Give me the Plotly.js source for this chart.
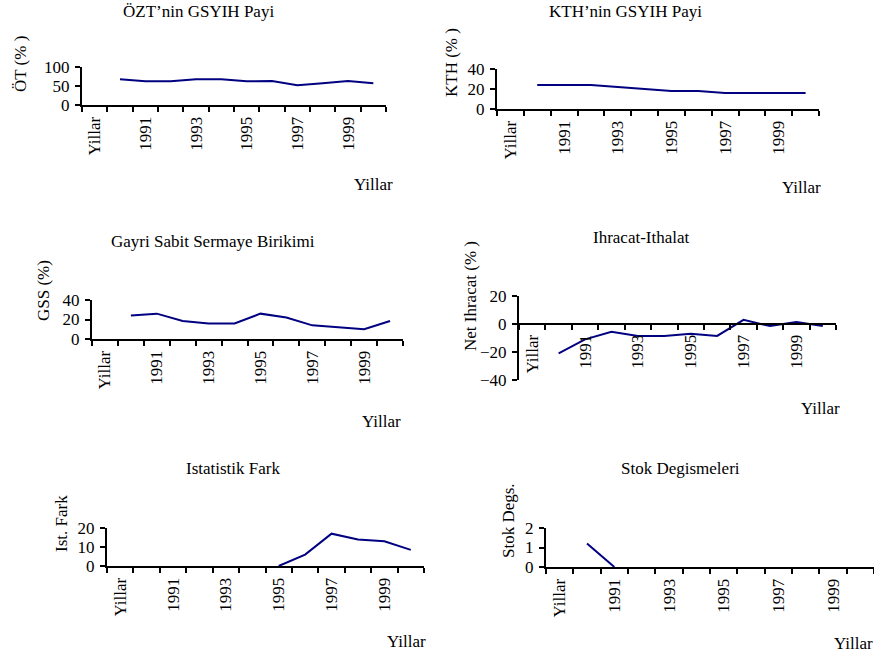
<!DOCTYPE html>
<html>
<head>
<meta charset="utf-8">
<script src="https://cdn.plot.ly/plotly-3.0.1.min.js"></script>
<style>html,body{margin:0;padding:0;background:#fff;}#chart{width:874px;height:658px;}</style>
</head>
<body>
<div id="chart"></div>
<script>
// ---- data ----
const categories = ["Yillar","1990","1991","1992","1993","1994","1995","1996","1997","1998","1999","2000"];
const tickLabels = ["Yillar","","1991","","1993","","1995","","1997","","1999",""];
const years = ["1990","1991","1992","1993","1994","1995","1996","1997","1998","1999","2000"];
const oztPay   = [67.5, 62.5, 62.5, 67.5, 67.5, 62.5, 63, 52, 57, 63, 57];
const kthPay   = [24, 24, 24, 22, 20, 18, 18, 16, 16, 16, 16];
const gssPay   = [24, 26, 18.5, 16, 16, 26, 22, 14, 12, 10, 18.5];
const netIhr   = [-21, -11, -5.5, -8.5, -8.5, -7, -8.5, 3, -1.5, 1.5, -1.5];
const istFark  = [null, null, null, null, null, 0, 6, 17, 14, 13, 8.5];
const stokDeg  = [1.2, 0, null, null, null, null, null, null, null, null, null];

const chartTitles = ["ÖZT’nin GSYIH Payi","KTH’nin GSYIH Payi","Gayri Sabit Sermaye Birikimi","Ihracat-Ithalat","Istatistik Fark","Stok Degismeleri"];
const yTitles = ["ÖT (% )","KTH (% )","GSS (%)","Net Ihracat (% )","Ist. Fark","Stok Degs."];
const xTitle = "Yillar";
const series = [oztPay, kthPay, gssPay, netIhr, istFark, stokDeg];
const yRanges = [[0,100],[0,40],[0,40],[-40,20],[0,20],[0,2]];
const yDticks = [50, 20, 20, 20, 10, 1];

// ---- layout geometry (pixels) ----
const W = 874, H = 658;
const geo = [
  {x:[82,386],  y:[67,105],  title:[198,12],  ytl:[20,64],   xtl:[373,185]},
  {x:[497,819], y:[69,109],  title:[625,12],  ytl:[451,62],  xtl:[801,187]},
  {x:[92,403],  y:[300,339], title:[213,241], ytl:[43,291],  xtl:[381,421]},
  {x:[519,836], y:[296,380], title:[641,238], ytl:[471,296], xtl:[820,408]},
  {x:[107,424], y:[528,566], title:[233,468], ytl:[61,524],  xtl:[406,641]},
  {x:[546,874], y:[528,567], title:[680,468], ytl:[508,521], xtl:[832,643], xtlLeft:true}
];
const px = v => v / W;
const py = v => 1 - v / H;

const fnt = () => ({family: "Liberation Serif", size: 17, color: "black"});
const traces = [];
const layout = {
  width: W, height: H,
  margin: {l:0, r:0, t:0, b:0},
  paper_bgcolor: "#fff", plot_bgcolor: "rgba(0,0,0,0)",
  showlegend: false,
  font: fnt(),
  annotations: []
};

series.forEach((vals, i) => {
  const n = i + 1;
  const xa = "xaxis" + (n === 1 ? "" : n), ya = "yaxis" + (n === 1 ? "" : n);
  const xr = "x" + (n === 1 ? "" : n), yr = "y" + (n === 1 ? "" : n);
  const g = geo[i];
  traces.push({
    type: "scatter", mode: "lines", x: years, y: vals,
    xaxis: xr, yaxis: yr,
    line: {color: "#000080", width: 2}, hoverinfo: "skip"
  });
  const yDom = [py(g.y[1]), py(g.y[0])];
  const yr0 = yRanges[i];
  const xAxis = {
    domain: [px(g.x[0]), px(g.x[1])],
    type: "category", categoryorder: "array", categoryarray: categories,
    range: [-0.5, categories.length - 0.5],
    tickmode: "array", tickvals: categories, ticktext: tickLabels,
    tickson: "boundaries", ticks: "outside", ticklen: 5, tickwidth: 2, tickcolor: "#000",
    tickangle: -90, tickfont: fnt(), ticklabelstandoff: 3,
    showline: true, linewidth: 2, linecolor: "#000",
    showgrid: false, zeroline: false, fixedrange: true
  };
  if (yr0[0] < 0) {
    xAxis.anchor = "free";
    xAxis.position = yDom[0] + (0 - yr0[0]) / (yr0[1] - yr0[0]) * (yDom[1] - yDom[0]);
  } else {
    xAxis.anchor = yr;
  }
  layout[xa] = xAxis;
  layout[ya] = {
    domain: yDom, anchor: xr, range: yr0, dtick: yDticks[i], tick0: 0,
    ticks: "outside", ticklen: 5, tickwidth: 2, tickcolor: "#000",
    tickfont: fnt(), ticklabelstandoff: 2,
    showline: true, linewidth: 2, linecolor: "#000",
    showgrid: false, zeroline: false, fixedrange: true
  };
  layout.annotations.push({
    xref: "paper", yref: "paper", x: px(g.title[0]), y: py(g.title[1]),
    text: chartTitles[i], showarrow: false, font: fnt(), xanchor: "center", yanchor: "middle"
  });
  layout.annotations.push({
    xref: "paper", yref: "paper", x: px(g.ytl[0]), y: py(g.ytl[1]),
    text: yTitles[i], showarrow: false, font: fnt(), textangle: -90, xanchor: "center", yanchor: "middle"
  });
  layout.annotations.push({
    xref: "paper", yref: "paper", x: px(g.xtl[0]), y: py(g.xtl[1]),
    text: xTitle, showarrow: false, font: fnt(), xanchor: g.xtlLeft ? "left" : "center", yanchor: "middle"
  });
});

Plotly.newPlot("chart", traces, layout, {displayModeBar: false});
</script>
</body>
</html>
